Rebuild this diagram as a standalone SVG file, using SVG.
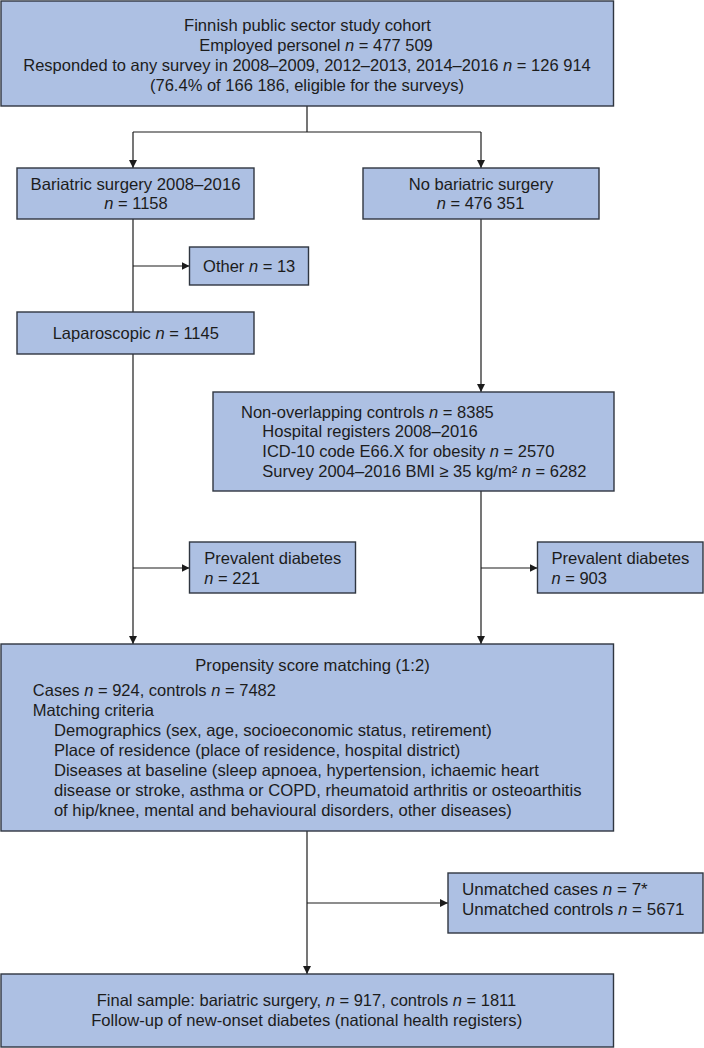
<svg xmlns="http://www.w3.org/2000/svg" width="704" height="1048" viewBox="0 0 704 1048">
<style>
.box{fill:#adc0e3;stroke:#2f3640;stroke-width:1.4}
.t{font-family:"Liberation Sans",Arial,sans-serif;font-size:16.5px;fill:#1c1c1c}
.m{text-anchor:middle}
.i{font-style:italic}
.c{stroke:#1c1c1c;stroke-width:1.2;fill:none}
</style>
<defs>
<marker id="ah" viewBox="0 0 10 10" refX="10" refY="5" markerWidth="8" markerHeight="8" markerUnits="userSpaceOnUse" orient="auto">
<path d="M0,0 L10,5 L0,10 z" fill="#1c1c1c"/>
</marker>
</defs>
<rect width="704" height="1048" fill="#ffffff"/>
<g id="connectors">
<path class="c" d="M307,106 V132 M133,132 H481"/>
<path class="c" d="M133,132 V168" marker-end="url(#ah)"/>
<path class="c" d="M481,132 V168" marker-end="url(#ah)"/>
<path class="c" d="M133,219 V312"/>
<path class="c" d="M133,266 H189.5" marker-end="url(#ah)"/>
<path class="c" d="M133,354 V644" marker-end="url(#ah)"/>
<path class="c" d="M133,568 H189.5" marker-end="url(#ah)"/>
<path class="c" d="M481,219 V392" marker-end="url(#ah)"/>
<path class="c" d="M481,491 V644" marker-end="url(#ah)"/>
<path class="c" d="M481,568 H537.5" marker-end="url(#ah)"/>
<path class="c" d="M307,831 V974" marker-end="url(#ah)"/>
<path class="c" d="M307,903 H448" marker-end="url(#ah)"/>
</g>
<g id="cohort">
<rect class="box" x="1" y="1" width="612.5" height="105"/>
<text class="t m" x="307.5" y="31" textLength="247" lengthAdjust="spacingAndGlyphs">Finnish public sector study cohort</text>
<text class="t m" x="316" y="51">Employed personel <tspan class="i">n</tspan> = 477 509</text>
<text class="t m" x="307" y="71">Responded to any survey in 2008–2009, 2012–2013, 2014–2016 <tspan class="i">n</tspan> = 126 914</text>
<text class="t m" x="307" y="91" textLength="314" lengthAdjust="spacingAndGlyphs">(76.4% of 166 186, eligible for the surveys)</text>
</g>
<g id="bariatric">
<rect class="box" x="17" y="168" width="237" height="51"/>
<text class="t m" x="135.5" y="190" textLength="210" lengthAdjust="spacingAndGlyphs">Bariatric surgery 2008–2016</text>
<text class="t m" x="136" y="209"><tspan class="i">n</tspan> = 1158</text>
</g>
<g id="nobariatric">
<rect class="box" x="363" y="168" width="236" height="51"/>
<text class="t m" x="481" y="190" textLength="144.6" lengthAdjust="spacingAndGlyphs">No bariatric surgery</text>
<text class="t m" x="480.5" y="209"><tspan class="i">n</tspan> = 476 351</text>
</g>
<g id="other">
<rect class="box" x="189.5" y="247" width="119" height="38"/>
<text class="t m" x="249.2" y="272">Other <tspan class="i">n</tspan> = 13</text>
</g>
<g id="laparoscopic">
<rect class="box" x="17" y="312" width="237" height="42"/>
<text class="t m" x="135.8" y="339">Laparoscopic <tspan class="i">n</tspan> = 1145</text>
</g>
<g id="controls">
<rect class="box" x="213" y="392" width="401" height="99"/>
<text class="t" x="241" y="418">Non-overlapping controls <tspan class="i">n</tspan> = 8385</text>
<text class="t" x="262.3" y="437" textLength="215.3" lengthAdjust="spacingAndGlyphs">Hospital registers 2008–2016</text>
<text class="t" x="262.3" y="457">ICD-10 code E66.X for obesity <tspan class="i">n</tspan> = 2570</text>
<text class="t" x="262.3" y="477">Survey 2004–2016 BMI ≥ 35 kg/m² <tspan class="i">n</tspan> = 6282</text>
</g>
<g id="prevalent-cases">
<rect class="box" x="189.5" y="542" width="166" height="51"/>
<text class="t" x="204.3" y="564" textLength="137" lengthAdjust="spacingAndGlyphs">Prevalent diabetes</text>
<text class="t" x="204.3" y="584"><tspan class="i">n</tspan> = 221</text>
</g>
<g id="prevalent-controls">
<rect class="box" x="537.5" y="542" width="165.5" height="51"/>
<text class="t" x="551.4" y="564" textLength="138" lengthAdjust="spacingAndGlyphs">Prevalent diabetes</text>
<text class="t" x="551.4" y="584"><tspan class="i">n</tspan> = 903</text>
</g>
<g id="matching">
<rect class="box" x="1" y="644" width="612.5" height="187"/>
<text class="t" x="195.3" y="671" textLength="234.4" lengthAdjust="spacingAndGlyphs">Propensity score matching (1:2)</text>
<text class="t" x="32.8" y="696">Cases <tspan class="i">n</tspan> = 924, controls <tspan class="i">n</tspan> = 7482</text>
<text class="t" x="32.8" y="716" textLength="121.2" lengthAdjust="spacingAndGlyphs">Matching criteria</text>
<text class="t" x="53.9" y="736" textLength="437.8" lengthAdjust="spacingAndGlyphs">Demographics (sex, age, socioeconomic status, retirement)</text>
<text class="t" x="53.9" y="756" textLength="406.4" lengthAdjust="spacingAndGlyphs">Place of residence (place of residence, hospital district)</text>
<text class="t" x="53.9" y="776" textLength="485" lengthAdjust="spacingAndGlyphs">Diseases at baseline (sleep apnoea, hypertension, ichaemic heart</text>
<text class="t" x="53.9" y="796" textLength="527.6" lengthAdjust="spacingAndGlyphs">disease or stroke, asthma or COPD, rheumatoid arthritis or osteoarthitis</text>
<text class="t" x="53.9" y="816" textLength="458" lengthAdjust="spacingAndGlyphs">of hip/knee, mental and behavioural disorders, other diseases)</text>
</g>
<g id="unmatched">
<rect class="box" x="448" y="873" width="255" height="60"/>
<text class="t" x="462" y="895" style="font-size:17px">Unmatched cases <tspan class="i">n</tspan> = 7*</text>
<text class="t" x="462" y="915" style="font-size:17px">Unmatched controls <tspan class="i">n</tspan> = 5671</text>
</g>
<g id="final">
<rect class="box" x="1" y="974" width="612.5" height="73"/>
<text class="t m" x="306.5" y="1006">Final sample: bariatric surgery, <tspan class="i">n</tspan> = 917, controls <tspan class="i">n</tspan> = 1811</text>
<text class="t m" x="306.7" y="1026" textLength="431" lengthAdjust="spacingAndGlyphs">Follow-up of new-onset diabetes (national health registers)</text>
</g>
</svg>
